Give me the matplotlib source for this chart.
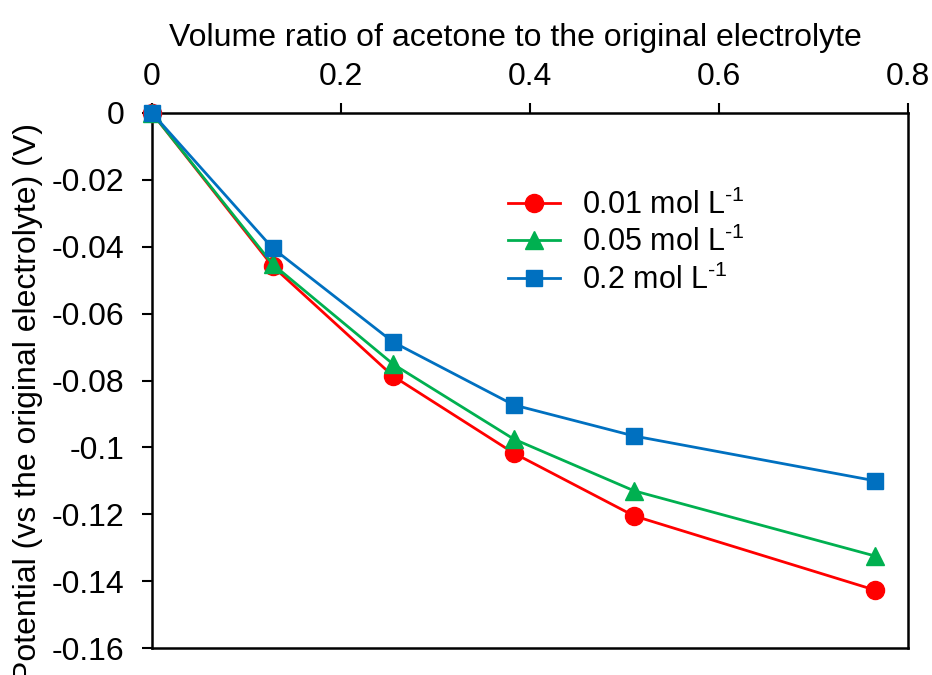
import matplotlib
matplotlib.use("Agg")
import matplotlib.pyplot as plt

plt.rcParams['font.family'] = ['Liberation Sans', 'DejaVu Sans']
plt.rcParams['mathtext.fontset'] = 'custom'
plt.rcParams['mathtext.rm'] = 'Liberation Sans'

x = [0, 0.1276, 0.2551, 0.3827, 0.5102, 0.7653]
y_001 = [0, -0.0458, -0.0787, -0.1017, -0.1205, -0.1427]
y_005 = [0, -0.0452, -0.0751, -0.0975, -0.1130, -0.1325]
y_02 = [0, -0.0404, -0.0685, -0.0873, -0.0966, -0.1100]
labels = ['0.01 mol L$^{\\text{-1}}$', '0.05 mol L$^{\\text{-1}}$', '0.2 mol L$^{\\text{-1}}$']
xticks = [0, 0.2, 0.4, 0.6, 0.8]
yticks = [0, -0.02, -0.04, -0.06, -0.08, -0.1, -0.12, -0.14, -0.16]
ytlabels = ['0', '-0.02', '-0.04', '-0.06', '-0.08', '-0.1', '-0.12', '-0.14', '-0.16']
xtlabels = ['0', '0.2', '0.4', '0.6', '0.8']

fig = plt.figure(figsize=(9.32, 6.75), dpi=100)
ax = fig.add_axes([152/932, 1-648/675, (908-152)/932, (648-113)/675])

ax.plot(x, y_001, color='#FF0000', marker='o', markersize=13, lw=2, label=labels[0], zorder=3)
ax.plot(x, y_005, color='#00B050', marker='^', markersize=13, lw=2, label=labels[1], zorder=3)
ax.plot(x, y_02, color='#0070C0', marker='s', markersize=12, lw=2, label=labels[2], zorder=4)

ax.set_xlim(0, 0.8)
ax.set_ylim(-0.16, 0)
ax.xaxis.tick_top()
ax.xaxis.set_label_position('top')
ax.set_xticks(xticks)
ax.set_xticklabels(xtlabels)
ax.set_yticks(yticks)
ax.set_yticklabels(ytlabels)
ax.tick_params(axis='both', labelsize=23, direction='out', length=7, width=1.5, colors='black')
ax.tick_params(axis='x', pad=8)
ax.tick_params(axis='y', pad=13)
for s in ax.spines.values():
    s.set_linewidth(1.8)
    s.set_color('black')
ax.set_xlabel('Volume ratio of acetone to the original electrolyte', fontsize=23)
ax.set_ylabel('Potential (vs the original electrolyte) (V)', fontsize=23)
ax.xaxis.set_label_coords(0.480, 1.125)
ax.yaxis.set_label_coords(-0.144, 0.458)
for p in ax.lines:
    p.set_clip_on(False)

leg = ax.legend(loc='upper left', bbox_to_anchor=(0.455, 0.88), frameon=False, fontsize=22,
                handlelength=1.7, handletextpad=0.7, labelspacing=0.2, borderaxespad=0)

fig.savefig('out.png', dpi=100)
